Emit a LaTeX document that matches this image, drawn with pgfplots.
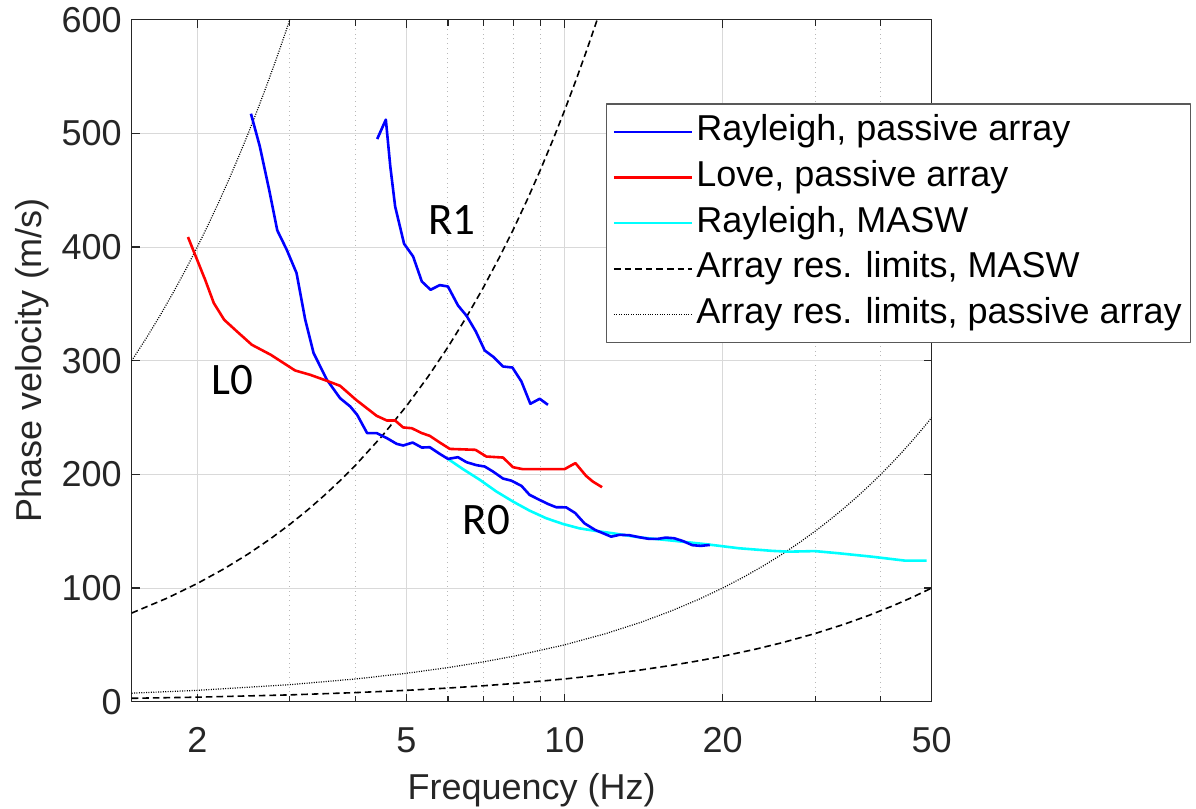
\documentclass[border=0pt]{standalone}
\usepackage{pgfplots}
\pgfplotsset{compat=1.18}
\usepackage{fontspec}
\setmainfont{Liberation Sans}
\newfontfamily\calib{Carlito}
\definecolor{axgray}{RGB}{38,38,38}
\definecolor{mcyan}{RGB}{0,255,255}
\definecolor{mblue}{RGB}{0,0,255}
\definecolor{mred}{RGB}{255,0,0}
\begin{document}
\begin{tikzpicture}
\begin{axis}[
 scale only axis, width=400pt, height=341pt,
 xmode=log, xmin=1.5, xmax=50, ymin=0, ymax=600,
 xtick={2,5,10,20,50}, xticklabels={2,5,10,20,50},
 minor xtick={3,4,6,7,8,9,30,40},
 ytick={0,100,200,300,400,500,600}, yticklabels={0,100,200,300,400,500,600},
 tick align=inside, major tick length=4pt, minor tick length=3pt,
 xmajorgrids, xminorgrids, ymajorgrids,
 major grid style={black!15, line width=0.5pt},
 minor grid style={black!28, dotted, line width=0.5pt},
 axis line style={axgray, line width=0.6pt},
 every tick/.style={axgray, line width=0.6pt},
 every tick label/.append style={font=\fontsize{18}{20}\selectfont, text=axgray},
 xticklabel style={yshift=-9.5pt},
 yticklabel style={xshift=-1.5pt},
 xlabel={Frequency (Hz)}, ylabel={Phase velocity (m/s)},
 label style={font=\fontsize{18}{20}\selectfont, text=axgray},
 xlabel style={at={(rel axis cs:0.5,-0.1441)}, anchor=base},
 ylabel style={at={(rel axis cs:-0.1125,0.501)}, anchor=base},
 legend cell align=left,
 legend image code/.code={\draw[#1] (0pt,0pt) -- (39pt,0pt);},
 legend style={at={(rel axis cs:0.593,0.8774)}, anchor=north west,
   draw=black!65, line width=0.6pt, fill=white,
   font=\fontsize{18}{20}\selectfont,
   inner xsep=3pt, inner ysep=2.6pt, row sep=0pt,
   nodes={inner xsep=1.5pt, inner ysep=3.1pt, text height=12.8pt, text depth=3.8pt}},
 line join=round,
]
\coordinate (bbSW) at (rel axis cs:-0.1646,-0.1573);
\coordinate (bbNE) at (rel axis cs:1.3304,1.0289);
% MASW resolution limits (dashed)
\addplot[black, line width=0.8pt, dash pattern=on 3.3pt off 2pt, forget plot] coordinates {
(1.5,78) (1.75,91) (2,104) (2.25,117) (2.5,130) (2.75,143) (3,156) (3.25,169) (3.5,182) (3.75,195)
(4,208) (4.5,234) (5,260) (5.5,286) (6,312) (6.5,338) (7,364) (7.5,390) (8,416) (8.5,442)
(9,468) (9.5,494) (10,520) (10.5,546) (11,572) (11.54,600)};
\addplot[black, line width=0.8pt, dash pattern=on 3.3pt off 2pt, forget plot] coordinates {
(1.5,3) (2,4) (3,6) (4,8) (5,10) (6,12) (7,14) (8,16) (10,20) (12,24) (14,28) (16,32) (18,36)
(20,40) (23,46) (26,52) (30,60) (34,68) (38,76) (42,84) (46,92) (50,100)};
% passive array resolution limits (dotted)
\addplot[black, line width=0.6pt, dash pattern=on 0.5pt off 0.7pt, forget plot] coordinates {
(1.5,300) (1.6,320) (1.7,340) (1.8,360) (1.9,380) (2,400) (2.1,420) (2.2,440) (2.3,460) (2.4,480)
(2.5,500) (2.6,520) (2.7,540) (2.8,560) (2.9,580) (3,600)};
\addplot[black, line width=0.6pt, dash pattern=on 0.5pt off 0.7pt, forget plot] coordinates {
(1.5,7.5) (2,10) (3,15) (4,20) (5,25) (6,30) (7,35) (8,40) (10,50) (12,60) (14,70) (16,80) (18,90)
(20,100) (22,110) (24,120) (26,130) (28,140) (30,150) (32,160) (34,170) (36,180) (38,190) (40,200)
(42,210) (44,220) (46,230) (48,240) (50,250)};
% Rayleigh MASW
\addplot[mcyan, line width=1.3pt, forget plot] coordinates {
(6.0,213.6) (6.41,204.6) (6.90,195.2) (7.42,184.9) (7.98,176.1) (8.58,168.1) (9.23,161.4)
(9.93,156.4) (10.68,152.5) (11.48,150.2) (12.35,148.2) (13.88,144.6) (16.05,141.7) (18.57,138.6)
(21.48,135) (24.85,132.7) (26.73,132) (29.95,132.5) (33.25,130.6) (38.46,127.6) (44.5,124.1) (48.9,124.1)};
% Rayleigh passive, fundamental
\addplot[mblue, line width=1.3pt] coordinates {
(2.53,517.3) (2.63,488.6) (2.74,450.4) (2.84,414.6) (2.96,397.6) (3.09,377.1) (3.21,336)
(3.33,306.7) (3.53,283.2) (3.74,267) (3.91,259.7) (4.03,252.4) (4.21,236.3) (4.39,236.3)
(4.59,231.9) (4.79,226.9) (4.93,225.4) (5.14,228) (5.35,223.6) (5.54,223.9) (5.79,218)
(6.0,213.6) (6.27,215.1) (6.51,210.7) (6.80,208.1) (7.05,206.9) (7.31,202.5) (7.64,196.3)
(7.92,194.5) (8.28,189.9) (8.58,182) (8.97,177.5) (9.30,174) (9.64,171.1) (10.07,171)
(10.48,166) (10.91,157) (11.44,151.1) (12.27,145.2) (12.72,146.8) (13.28,146.5) (13.88,144.7)
(14.50,143.2) (15.03,143.2) (15.60,144.4) (16.17,143.8) (16.77,141.5) (17.52,137.7) (18.17,137.1) (18.90,137.9)};
\addlegendentry{Rayleigh, passive array}
% Rayleigh passive, first higher mode
\addplot[mblue, line width=1.3pt, forget plot] coordinates {
(4.40,495) (4.57,512.1) (4.66,471) (4.76,435.7) (4.95,402.9) (5.15,391.7) (5.35,369.7)
(5.56,362.4) (5.79,366.5) (6.00,365.3) (6.27,348.6) (6.51,339.5) (6.78,325.7) (7.05,309)
(7.33,303.2) (7.64,294.9) (7.96,294) (8.28,281.7) (8.61,262.1) (8.97,266.5) (9.30,261.2)};
% Love passive
\addplot[mred, line width=1.3pt] coordinates {
(1.92,408.8) (2.07,371.2) (2.15,350.7) (2.25,336) (2.38,325.7) (2.54,314) (2.76,305.2)
(2.92,297.9) (3.07,291.4) (3.28,287.6) (3.53,282.3) (3.74,277.9) (4.01,265.6) (4.39,251.5)
(4.59,247.4) (4.76,247.4) (4.93,241.3) (5.12,240.6) (5.35,236.3) (5.54,233.9) (5.79,228)
(6.05,222.4) (6.23,222.2) (6.77,221.6) (7.10,215.7) (7.64,214.8) (7.98,206.3) (8.33,204.6)
(10.0,204.6) (10.49,209.9) (10.99,198.7) (11.32,193.7) (11.79,188.7)};
\addlegendentry{Love, passive array}
\addlegendimage{mcyan, line width=1.3pt}
\addlegendentry{Rayleigh, MASW}
\addlegendimage{black, line width=0.8pt, dash pattern=on 3.3pt off 2pt}
\addlegendentry{Array res. limits, MASW}
\addlegendimage{black, line width=0.6pt, dash pattern=on 0.5pt off 0.7pt}
\addlegendentry{Array res. limits, passive array}
\node[font=\calib\fontsize{22.5}{24}\selectfont] at (axis cs:2.33,283) {L0};
\node[font=\calib\fontsize{22.5}{24}\selectfont] at (axis cs:6.10,424) {R1};
\node[font=\calib\fontsize{22.5}{24}\selectfont] at (axis cs:7.10,160) {R0};
\end{axis}
\pgfresetboundingbox
\useasboundingbox (bbSW) rectangle (bbNE);
\end{tikzpicture}
\end{document}
